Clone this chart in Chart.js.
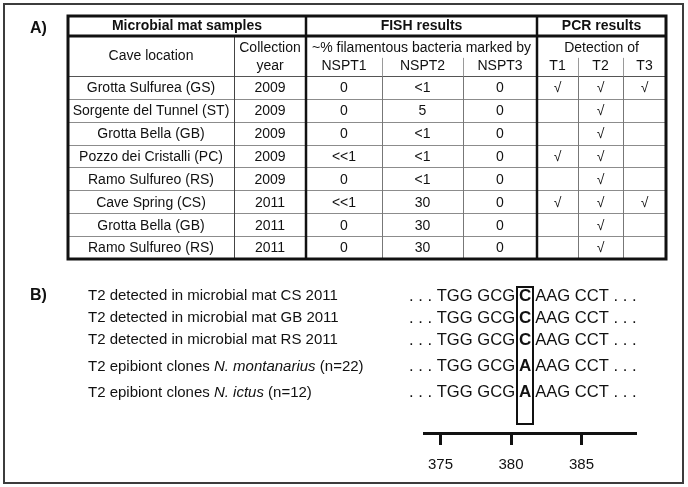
<!DOCTYPE html>
<html>
<head>
<meta charset="utf-8">
<script src="https://cdn.jsdelivr.net/npm/chart.js@4.4.1/dist/chart.umd.min.js"></script>
<style>
  html, body { margin: 0; padding: 0; background: #fff; }
  #wrap { position: relative; width: 688px; height: 487px; overflow: hidden; }
  #frame { position: absolute; left: 3px; top: 3px; width: 681px; height: 481px; border: 2px solid #3c3c3c; box-sizing: border-box; }
  #tableChart { position: absolute; left: 0; top: 0; }
  #alignChart { position: absolute; left: 0; top: 270px; }
</style>
</head>
<body>
<div id="wrap">
  <div id="frame"></div>
  <canvas id="tableChart" width="688" height="270"></canvas>
  <canvas id="alignChart" width="688" height="217"></canvas>
</div>
<script>
// ---- data (A) ----
const caveLocations = ["Grotta Sulfurea (GS)", "Sorgente del Tunnel (ST)", "Grotta Bella (GB)", "Pozzo dei Cristalli (PC)",
                       "Ramo Sulfureo (RS)", "Cave Spring (CS)", "Grotta Bella (GB)", "Ramo Sulfureo (RS)"];
const collectionYears = [2009, 2009, 2009, 2009, 2009, 2011, 2011, 2011];
const nspt1 = ["0", "0", "0", "<<1", "0", "<<1", "0", "0"];
const nspt2 = ["<1", "5", "<1", "<1", "<1", "30", "30", "30"];
const nspt3 = ["0", "0", "0", "0", "0", "0", "0", "0"];
const pcrT1 = [true, false, false, true, false, true, false, false];
const pcrT2 = [true, true, true, true, true, true, true, true];
const pcrT3 = [true, false, false, false, false, true, false, false];
const fishProbes = ["NSPT1", "NSPT2", "NSPT3"];
const pcrTargets = ["T1", "T2", "T3"];

// ---- data (B) ----
const seqLabels = ["T2 detected in microbial mat CS 2011", "T2 detected in microbial mat GB 2011",
                   "T2 detected in microbial mat RS 2011", "T2 epibiont clones *N. montanarius* (n=22)",
                   "T2 epibiont clones *N. ictus* (n=12)"];
const snpBases = ["C", "C", "C", "A", "A"];
const flankLeft = ". . . TGG GCG";
const flankRight = "AAG CCT . . .";
const snpPosition = 381;
const positionTicks = [375, 380, 385];

const FONT = "'Liberation Sans', Arial, Helvetica, sans-serif";
const INK = "#111";
const check = b => (b ? "\u221A" : "");

// table layout (x in table units, y in data-row units)
const colEdges = [0, 166, 238, 314, 395, 469, 510, 555, 598];
const colMid = i => (colEdges[i] + colEdges[i + 1]) / 2;
const HEAD_TOP = -2.62, HEAD_SPLIT = -1.75, SUB1 = -1.22, SUB2 = -0.44, SUB_SEP = -0.79;

const cellColumns = [caveLocations, collectionYears, nspt1, nspt2, nspt3,
                     pcrT1.map(check), pcrT2.map(check), pcrT3.map(check)];

const tablePlugin = {
  id: "tableGrid",
  beforeDatasetsDraw(chart) {
    const { ctx, scales: { x, y } } = chart;
    const X = v => x.getPixelForValue(v), Y = v => y.getPixelForValue(v);
    const line = (x1, y1, x2, y2, w, c) => {
      ctx.beginPath(); ctx.lineWidth = w; ctx.strokeStyle = c;
      ctx.moveTo(x1, y1); ctx.lineTo(x2, y2); ctx.stroke();
    };
    const px = v => Math.round(v) + 0.5;
    ctx.save();
    // thin row lines
    for (let r = 0; r < caveLocations.length; r++) {
      line(X(0), px(Y(r)), X(598), px(Y(r)), 1, r === 0 ? "#555" : "#8c8c8c");
    }
    // thin column lines
    line(px(X(colEdges[1])), Y(HEAD_SPLIT), px(X(colEdges[1])), Y(8), 1, "#444");
    [3, 4, 6, 7].forEach(c => {
      line(px(X(colEdges[c])), Y(SUB_SEP), px(X(colEdges[c])), Y(0), 1, "#9a9a9a");
      line(px(X(colEdges[c])), Y(0), px(X(colEdges[c])), Y(8), 1, "#777");
    });
    // thick lines
    [2, 5].forEach(c => line(X(colEdges[c]), Y(HEAD_TOP), X(colEdges[c]), Y(8), 2.5, INK));
    line(X(0), Y(HEAD_SPLIT), X(598), Y(HEAD_SPLIT), 3, INK);
    ctx.lineWidth = 3; ctx.strokeStyle = INK;
    ctx.strokeRect(X(0), Y(HEAD_TOP), X(598) - X(0), Y(8) - Y(HEAD_TOP));

    // headers
    ctx.fillStyle = INK; ctx.textAlign = "center"; ctx.textBaseline = "middle";
    const hMid = (HEAD_TOP + HEAD_SPLIT) / 2;
    ctx.font = "bold 14px " + FONT;
    ctx.fillText("Microbial mat samples", X((colEdges[0] + colEdges[2]) / 2), Y(hMid));
    ctx.fillText("FISH results", X((colEdges[2] + colEdges[5]) / 2), Y(hMid));
    ctx.fillText("PCR results", X((colEdges[5] + colEdges[8]) / 2), Y(hMid));
    ctx.font = "14px " + FONT;
    ctx.fillText("Cave location", X(colMid(0)), Y((HEAD_SPLIT + 0) / 2));
    ctx.fillText("Collection", X(colMid(1)), Y(SUB1));
    ctx.fillText("year", X(colMid(1)), Y(SUB2));
    ctx.fillText("~% filamentous bacteria marked by", X((colEdges[2] + colEdges[5]) / 2), Y(SUB1));
    ctx.fillText("Detection of", X((colEdges[5] + colEdges[8]) / 2), Y(SUB1));
    fishProbes.forEach((t, i) => ctx.fillText(t, X(colMid(2 + i)), Y(SUB2)));
    pcrTargets.forEach((t, i) => ctx.fillText(t, X(colMid(5 + i)), Y(SUB2)));

    // panel letter
    ctx.font = "bold 16px " + FONT; ctx.textAlign = "left";
    ctx.fillText("A)", 30, Y(hMid) + 3);
    ctx.restore();
  },
  afterDatasetsDraw(chart) {
    const { ctx } = chart;
    ctx.save();
    ctx.fillStyle = INK; ctx.textAlign = "center"; ctx.textBaseline = "middle";
    ctx.font = "14px " + FONT;
    chart.data.datasets.forEach((ds, i) => {
      chart.getDatasetMeta(i).data.forEach((el, r) => ctx.fillText(ds.cellText[r], el.x, el.y + 1));
    });
    ctx.restore();
  }
};

new Chart(document.getElementById("tableChart"), {
  type: "scatter",
  data: {
    datasets: cellColumns.map((col, c) => ({
      data: col.map((v, r) => ({ x: colMid(c), y: r + 0.5 })),
      cellText: col.map(String),
      pointRadius: 0,
    })),
  },
  options: {
    responsive: false, animation: false, events: [],
    layout: { padding: { left: 68, right: 22, top: 16, bottom: 11 } },
    plugins: { legend: { display: false }, tooltip: { enabled: false } },
    scales: {
      x: { type: "linear", min: 0, max: 598, display: false },
      y: { type: "linear", min: HEAD_TOP, max: 8, reverse: true, display: false },
    },
  },
  plugins: [tablePlugin],
});

// ---- panel B ----
const rowY = i => 1.18 + i + (i > 2 ? (i - 2) * 0.2 : 0);

function drawRich(ctx, text, x, y, size) {
  text.split("*").forEach((part, k) => {
    ctx.font = (k % 2 ? "italic " : "") + size + "px " + FONT;
    ctx.fillText(part, x, y);
    x += ctx.measureText(part).width;
  });
}

const alignPlugin = {
  id: "alignment",
  afterDatasetsDraw(chart) {
    const { ctx, scales: { x, y } } = chart;
    ctx.save();
    ctx.fillStyle = INK; ctx.textBaseline = "middle";
    ctx.font = "bold 16px " + FONT; ctx.textAlign = "left";
    ctx.fillText("B)", 30, y.getPixelForValue(rowY(0)));
    const boxL = x.getPixelForValue(snpPosition - 0.57), boxR = x.getPixelForValue(snpPosition + 0.57);
    chart.getDatasetMeta(0).data.forEach((el, i) => {
      ctx.textAlign = "left";
      drawRich(ctx, seqLabels[i], 88, el.y, 15);
      ctx.font = "16.6px " + FONT;
      ctx.textAlign = "right"; ctx.fillText(flankLeft, boxL - 2, el.y);
      ctx.textAlign = "left"; ctx.fillText(flankRight, boxR + 2, el.y);
      ctx.font = "bold 17px " + FONT;
      ctx.textAlign = "center"; ctx.fillText(snpBases[i], el.x, el.y);
    });
    const top = y.getPixelForValue(rowY(0) - 0.41), bot = y.getPixelForValue(rowY(snpBases.length - 1) + 1.42);
    ctx.lineWidth = 2; ctx.strokeStyle = INK;
    ctx.strokeRect(Math.round(boxL), Math.round(top), Math.round(boxR - boxL), Math.round(bot - top));
    ctx.restore();
  }
};

new Chart(document.getElementById("alignChart"), {
  type: "scatter",
  data: {
    datasets: [{ data: snpBases.map((b, i) => ({ x: snpPosition, y: rowY(i) })), pointRadius: 0 }],
  },
  options: {
    responsive: false, animation: false, events: [],
    layout: { padding: { left: 424, right: 53, top: 0, bottom: 0 } },
    plugins: { legend: { display: false }, tooltip: { enabled: false } },
    scales: {
      x: {
        type: "linear", min: 373.83, max: 388.79,
        afterBuildTicks: s => { s.ticks = positionTicks.map(v => ({ value: v })); },
        afterFit: s => { s.height = 54; },
        border: { display: true, color: INK, width: 3 },
        grid: { drawOnChartArea: false, drawTicks: true, tickLength: 12, color: INK, lineWidth: 3 },
        ticks: { font: { family: FONT, size: 15 }, color: INK, padding: 11, autoSkip: false, maxRotation: 0 },
      },
      y: { type: "linear", min: 0, max: 163 / 22, reverse: true, display: false },
    },
  },
  plugins: [alignPlugin],
});
</script>
</body>
</html>
